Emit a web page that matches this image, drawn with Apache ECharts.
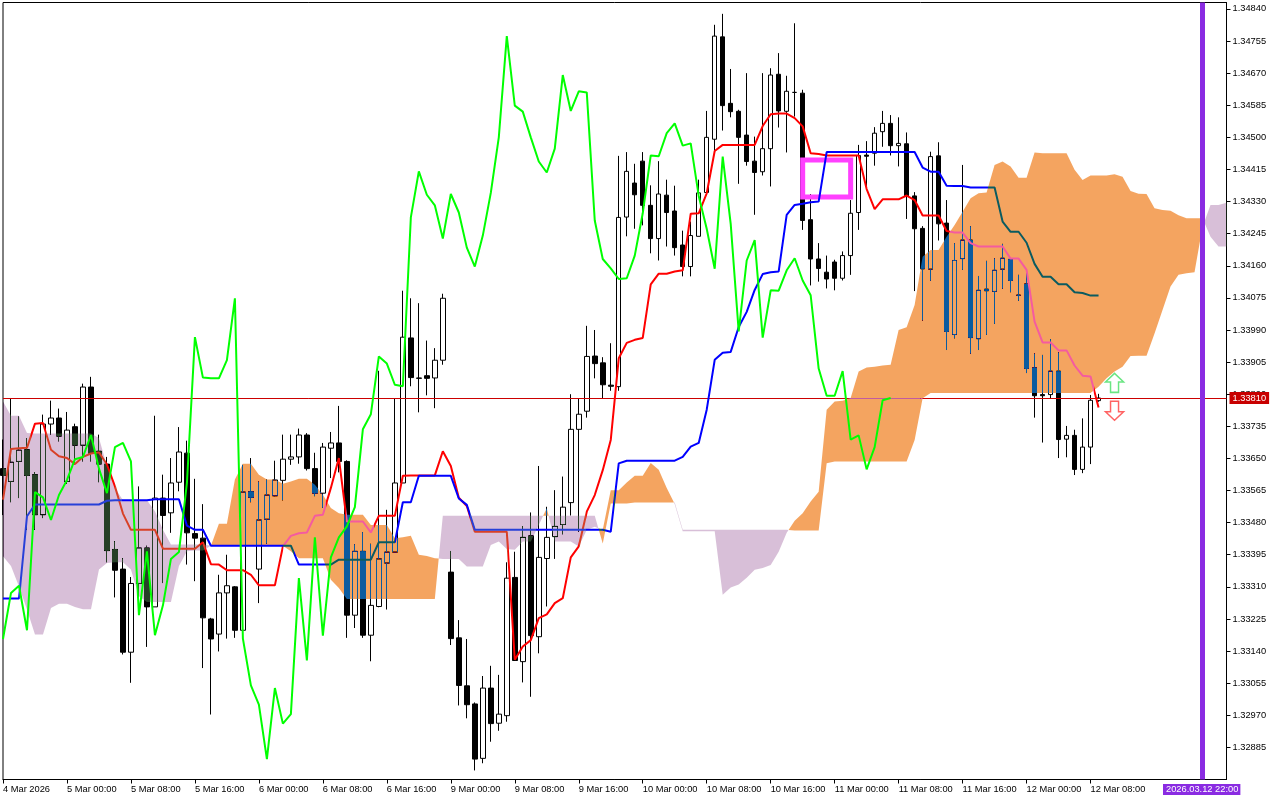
<!DOCTYPE html>
<html>
<head>
<meta charset="utf-8">
<script src="https://cdn.jsdelivr.net/npm/echarts@6/dist/echarts.min.js"></script>
<style>html,body{margin:0;padding:0;background:#fff}#c{width:1280px;height:800px}</style>
</head>
<body>
<div id="c"></div>
<script>
const opens=[1.33623,1.33589,1.33642,1.33673,1.33607,1.33501,1.33741,1.33757,1.33589,1.33734,1.33685,1.33839,1.33669,1.33635,1.33409,1.33357,1.33137,1.33319,1.33413,1.33257,1.33545,1.33506,1.33587,1.33664,1.33451,1.33439,1.33225,1.33185,1.33294,1.33310,1.33195,1.33562,1.33357,1.33489,1.33551,1.33592,1.33648,1.33654,1.33712,1.33623,1.33558,1.33677,1.33691,1.33642,1.33235,1.33404,1.33182,1.33258,1.33373,1.33402,1.33585,1.33969,1.33863,1.33869,1.33863,1.33910,
1.33349,1.33175,1.33048,1.33000,1.32856,1.33042,1.32949,1.32969,1.33335,1.33112,1.33445,1.33178,1.33385,1.33443,1.33475,1.33533,1.33727,1.33775,1.33921,1.33903,1.33844,1.33840,1.34289,1.34379,1.34437,1.34320,1.34232,1.34347,1.34305,1.34215,1.34158,1.34238,1.34354,1.34495,1.34766,1.34590,1.34569,1.34506,1.34437,1.34409,1.34470,1.34667,1.34569,1.34619,1.34617,1.34282,1.34178,1.34143,1.34170,1.34127,1.34187,1.34301,1.34453,1.34458,1.34515,1.34537,1.34478,1.34483,1.34345,1.34259,1.34151,1.34451,1.34273,1.33978,1.34179,1.34228,1.33967,1.34098,1.34092,1.34151,1.34177,1.34082,1.34112,1.33890,1.33819,1.33819,1.33881,1.33701,1.33711,1.33621,1.33680,1.33803];
const closes=[1.33605,1.33640,1.33672,1.33605,1.33501,1.33741,1.33757,1.33709,1.33725,1.33685,1.33839,1.33664,1.33635,1.33406,1.33354,1.33137,1.33319,1.33413,1.33257,1.33545,1.33499,1.33585,1.33667,1.33453,1.33439,1.33228,1.33172,1.33294,1.33313,1.33195,1.33561,1.33547,1.33487,1.33553,1.33593,1.33648,1.33654,1.33712,1.33623,1.33558,1.33680,1.33691,1.33642,1.33235,1.33404,1.33182,1.33261,1.33384,1.33402,1.33585,1.33971,1.33864,1.33862,1.33862,1.33910,1.34074,
1.33173,1.33049,1.32998,1.32854,1.33042,1.32948,1.32973,1.33333,1.33115,1.33441,1.33181,1.33388,1.33441,1.33470,1.33521,1.33727,1.33767,1.33920,1.33901,1.33845,1.33841,1.34288,1.34410,1.34348,1.34320,1.34232,1.34350,1.34301,1.34208,1.34158,1.34240,1.34353,1.34500,1.34768,1.34584,1.34568,1.34500,1.34436,1.34407,1.34470,1.34665,1.34570,1.34622,1.34619,1.34280,1.34178,1.34153,1.34125,1.34127,1.34187,1.34299,1.34452,1.34450,1.34511,1.34537,1.34478,1.34484,1.34345,1.34258,1.34152,1.34449,1.34271,1.33986,1.34174,1.34228,1.33970,1.34095,1.34094,1.34148,1.34180,1.34121,1.34082,1.33888,1.33816,1.33816,1.33881,1.33700,1.33711,1.33621,1.33680,1.33804,1.33810];
const lows=[1.33500,1.33534,1.33545,1.33461,1.33461,1.33492,1.33713,1.33695,1.33583,1.33634,1.33642,1.33642,1.33587,1.33375,1.33282,1.33131,1.33056,1.33241,1.33151,1.33257,1.33320,1.33453,1.33563,1.33369,1.33325,1.33095,1.32972,1.33139,1.33173,1.33175,1.33195,1.33534,1.33267,1.33424,1.33550,1.33539,1.33633,1.33636,1.33618,1.33550,1.33519,1.33598,1.33613,1.33175,1.33201,1.33175,1.33113,1.33256,1.33250,1.33402,1.33585,1.33841,1.33772,1.33817,1.33783,1.33898,
1.33156,1.32996,1.32962,1.32824,1.32843,1.32900,1.32929,1.32953,1.33115,1.33057,1.33019,1.33134,1.33258,1.33384,1.33449,1.33499,1.33456,1.33758,1.33862,1.33809,1.33829,1.33829,1.34238,1.34258,1.34267,1.34193,1.34174,1.34211,1.34187,1.34132,1.34132,1.34238,1.34354,1.34465,1.34518,1.34553,1.34377,1.34425,1.34295,1.34399,1.34370,1.34526,1.34460,1.34555,1.34255,1.34108,1.34118,1.34100,1.34095,1.34121,1.34136,1.34255,1.34361,1.34425,1.34475,1.34452,1.34423,1.34284,1.34093,1.34015,1.34120,1.34227,1.33937,1.33968,1.34149,1.33927,1.33937,1.33977,1.34006,1.34099,1.34090,1.34067,1.33876,1.33758,1.33692,1.33809,1.33651,1.33653,1.33606,1.33611,1.33635,1.33800];
const highs=[1.33700,1.33810,1.33761,1.33704,1.33614,1.33766,1.33803,1.33782,1.33773,1.33742,1.33848,1.33866,1.33713,1.33654,1.33431,1.33386,1.33336,1.33576,1.33419,1.33763,1.33607,1.33651,1.33733,1.33697,1.33596,1.33529,1.33228,1.33342,1.33395,1.33312,1.33633,1.33651,1.33589,1.33594,1.33644,1.33713,1.33713,1.33729,1.33717,1.33665,1.33691,1.33720,1.33789,1.33645,1.33423,1.33455,1.33424,1.33882,1.33514,1.33808,1.34094,1.34074,1.34061,1.33962,1.33942,1.34086,
1.33405,1.33222,1.33172,1.33004,1.33074,1.33101,1.33077,1.33375,1.33403,1.33471,1.33507,1.33630,1.33522,1.33566,1.33602,1.33820,1.33809,1.34001,1.33990,1.33918,1.33955,1.34451,1.34461,1.34430,1.34461,1.34373,1.34437,1.34388,1.34372,1.34253,1.34277,1.34388,1.34570,1.34798,1.34827,1.34681,1.34573,1.34670,1.34502,1.34670,1.34683,1.34723,1.34663,1.34802,1.34626,1.34350,1.34220,1.34187,1.34176,1.34198,1.34334,1.34480,1.34490,1.34527,1.34570,1.34559,1.34553,1.34513,1.34355,1.34265,1.34462,1.34487,1.34334,1.34220,1.34427,1.34265,1.34133,1.34173,1.34180,1.34218,1.34180,1.34136,1.34151,1.33928,1.33924,1.33966,1.33931,1.33736,1.33726,1.33756,1.33818,1.33821];
const tenkan=[1.33541,1.33675,1.33677,1.33678,1.33742,1.33744,1.33673,1.33656,1.33651,1.33635,1.33654,1.33663,1.33666,1.33634,1.33576,1.33504,1.33461,1.33461,1.33461,1.33461,1.33411,1.33411,1.33411,1.33411,1.33411,1.33428,1.33370,1.33369,1.33354,1.33354,1.33354,1.33342,1.33314,1.33314,1.33314,1.33417,1.33445,1.33452,1.33454,1.33498,1.33501,1.33572,1.33651,1.33483,1.33483,1.33483,1.33454,1.33498,1.33498,1.33498,1.33604,1.33605,1.33605,1.33605,1.33605,1.33669,1.33630,1.33546,1.33524,1.33456,1.33456,1.33456,1.33456,1.33456,1.33117,1.33152,1.33169,1.33227,1.33237,1.33267,1.33280,1.33388,1.33417,1.33509,1.33553,1.33619,1.33699,1.33915,1.33956,1.33964,1.33969,1.34111,1.34139,1.34139,1.34145,1.34148,1.34298,1.34299,1.34352,1.34464,1.34480,1.34480,1.34480,1.34480,1.34480,1.34530,1.34561,1.34563,1.34563,1.34551,1.34529,1.34458,1.34456,1.34452,1.34452,1.34452,1.34452,1.34452,1.34363,1.34310,1.34336,1.34336,1.34336,1.34346,1.34334,1.34293,1.34293,1.34293,1.34252,1.34248,1.34248,1.34220,1.34211,1.34211,1.34211,1.34211,1.34179,1.34179,1.34149,1.34012,1.33957,1.33957,1.33936,1.33936,1.33896,1.33869,1.33867,1.33785];
const kijun=[1.33279,1.33279,1.33279,1.33497,1.33528,1.33528,1.33528,1.33528,1.33528,1.33528,1.33528,1.33528,1.33528,1.33538,1.33539,1.33539,1.33539,1.33539,1.33539,1.33542,1.33542,1.33542,1.33542,1.33472,1.33461,1.33461,1.33419,1.33419,1.33419,1.33419,1.33419,1.33419,1.33419,1.33419,1.33419,1.33419,1.33419,1.33369,1.33369,1.33369,1.33369,1.33369,1.33382,1.33382,1.33382,1.33382,1.33382,1.33428,1.33428,1.33428,1.33534,1.33534,1.33604,1.33604,1.33604,1.33604,1.33604,1.33544,1.33527,1.33461,1.33461,1.33461,1.33461,1.33461,1.33461,1.33461,1.33461,1.33461,1.33461,1.33461,1.33461,1.33461,1.33461,1.33461,1.33461,1.33461,1.33456,1.33637,1.33644,1.33644,1.33644,1.33644,1.33644,1.33644,1.33644,1.33654,1.33681,1.33691,1.33779,1.33911,1.33930,1.33932,1.33998,1.34038,1.34096,1.34138,1.34143,1.34145,1.34295,1.34321,1.34324,1.34328,1.34330,1.34461,1.34461,1.34461,1.34461,1.34461,1.34461,1.34461,1.34461,1.34461,1.34461,1.34461,1.34461,1.34420,1.34409,1.34409,1.34372,1.34371,1.34371,1.34367,1.34367,1.34367,1.34367,1.34277,1.34250,1.34250,1.34221,1.34165,1.34131,1.34131,1.34111,1.34111,1.34090,1.34088,1.34081,1.34081];
const chikou=[1.33172,1.33294,1.33313,1.33195,1.33561,1.33547,1.33487,1.33553,1.33593,1.33648,1.33654,1.33712,1.33623,1.33558,1.33680,1.33691,1.33642,1.33235,1.33404,1.33182,1.33261,1.33384,1.33402,1.33585,1.33971,1.33864,1.33862,1.33862,1.33910,1.34074,1.33173,1.33049,1.32998,1.32854,1.33042,1.32948,1.32973,1.33333,1.33115,1.33441,1.33181,1.33388,1.33441,1.33470,1.33521,1.33727,1.33767,1.33920,1.33901,1.33845,1.33841,1.34288,1.34410,1.34348,1.34320,1.34232,1.34350,1.34301,1.34208,1.34158,1.34240,1.34353,1.34500,1.34768,1.34584,1.34568,1.34500,1.34436,1.34407,1.34470,1.34665,1.34570,1.34622,1.34619,1.34280,1.34178,1.34153,1.34125,1.34127,1.34187,1.34299,1.34452,1.34450,1.34511,1.34537,1.34478,1.34484,1.34345,1.34258,1.34152,1.34449,1.34271,1.33986,1.34174,1.34228,1.33970,1.34095,1.34094,1.34148,1.34180,1.34121,1.34082,1.33888,1.33816,1.33816,1.33881,1.33700,1.33711,1.33621,1.33680,1.33804,1.33810];
const spanA=[1.33391,1.33365,1.33311,1.33250,1.33184,1.33184,1.33254,1.33265,1.33265,1.33257,1.33251,1.33251,1.33356,1.33373,1.33375,1.33375,1.33356,1.33285,1.33270,1.33270,1.33270,1.33270,1.33365,1.33404,1.33406,1.33406,1.33419,
1.33477,1.33477,1.33594,1.33636,1.33636,1.33607,1.33594,1.33594,1.33583,1.33589,1.33596,1.33596,1.33580,1.33554,1.33519,1.33505,1.33501,1.33501,1.33501,1.33474,1.33474,1.33474,1.33439,1.33441,1.33445,1.33395,1.33392,1.33386,
1.33384,1.33384,1.33384,1.33364,1.33364,1.33364,1.33421,1.33430,1.33410,1.33408,1.33430,1.33430,1.33474,1.33518,1.33430,1.33430,1.33430,1.33417,1.33461,1.33469,1.33461,1.33566,1.33566,1.33586,1.33604,1.33604,1.33638,1.33620,1.33572,1.33529,1.33457,1.33457,1.33457,1.33457,1.33457,
1.33289,1.33308,1.33316,1.33334,1.33355,1.33360,1.33368,1.33403,1.33453,1.33485,1.33505,1.33536,1.33562,1.33779,1.33801,1.33803,1.33810,1.33880,1.33891,1.33893,1.33896,1.33898,1.33990,1.33997,1.34056,1.34184,1.34202,1.34202,1.34237,1.34268,1.34303,1.34339,1.34352,1.34354,1.34427,1.34436,1.34423,1.34393,1.34393,1.34460,1.34458,1.34458,1.34458,1.34458,1.34414,1.34387,1.34399,1.34399,1.34399,1.34402,1.34396,1.34358,1.34351,1.34350,1.34312,1.34308,1.34306,1.34294,1.34286,1.34286,1.34286,1.34237,1.34211,1.34211];
const spanB=[1.33801,1.33763,1.33763,1.33717,1.33716,1.33716,1.33716,1.33716,1.33716,1.33716,1.33716,1.33716,1.33704,1.33629,1.33572,1.33539,1.33539,1.33539,1.33539,1.33510,1.33461,1.33422,1.33422,1.33422,1.33422,1.33422,1.33419,
1.33419,1.33419,1.33419,1.33419,1.33419,1.33419,1.33419,1.33419,1.33419,1.33404,1.33386,1.33386,1.33386,1.33386,1.33329,1.33307,1.33278,1.33278,1.33278,1.33278,1.33278,1.33278,1.33278,1.33278,1.33278,1.33278,1.33278,1.33278,
1.33498,1.33498,1.33498,1.33498,1.33498,1.33498,1.33498,1.33498,1.33498,1.33498,1.33498,1.33498,1.33498,1.33498,1.33498,1.33498,1.33498,1.33498,1.33498,1.33498,1.33425,1.33531,1.33531,1.33531,1.33533,1.33533,1.33533,1.33533,1.33533,1.33533,1.33461,1.33461,1.33461,1.33461,1.33461,
1.33461,1.33461,1.33461,1.33461,1.33461,1.33461,1.33461,1.33461,1.33461,1.33459,1.33459,1.33459,1.33459,1.33637,1.33642,1.33642,1.33642,1.33642,1.33642,1.33642,1.33642,1.33642,1.33642,1.33642,1.33699,1.33809,1.33823,1.33823,1.33823,1.33823,1.33823,1.33823,1.33823,1.33823,1.33823,1.33823,1.33823,1.33823,1.33823,1.33823,1.33823,1.33823,1.33823,1.33823,1.33823,1.33823,1.33823,1.33840,1.33862,1.33880,1.33893,1.33921,1.33922,1.33922,1.33981,1.34043,1.34105,1.34136,1.34140,1.34143,1.34263,1.34321,1.34321,1.34327];
const priceTicks=[1.32885,1.32970,1.33055,1.33140,1.33225,1.33310,1.33395,1.33480,1.33565,1.33650,1.33735,1.33820,1.33905,1.33990,1.34075,1.34160,1.34245,1.34330,1.34415,1.34500,1.34585,1.34670,1.34755,1.34840];
const timeLabels=["4 Mar 2026","5 Mar 00:00","5 Mar 08:00","5 Mar 16:00","6 Mar 00:00","6 Mar 08:00","6 Mar 16:00","9 Mar 00:00","9 Mar 08:00","9 Mar 16:00","10 Mar 00:00","10 Mar 08:00","10 Mar 16:00","11 Mar 00:00","11 Mar 08:00","11 Mar 16:00","12 Mar 00:00","12 Mar 08:00"];
const BARS_ON_AXIS=154, LABEL_EVERY=8;
const lastPrice=1.33810;
const eventBar=150, eventLabel="2026.03.12 22:00";
const boxBars=[100,106], boxPrices=[1.34342,1.34440];
const arrowBar=139, arrowUpPrice=1.33850, arrowDownPrice=1.33776;
const FONT='"Liberation Sans"';
const GRID_LEFT=2.5, GRID_WIDTH=1224;

const categories=Array.from({length:BARS_ON_AXIS},(_,i)=> i%LABEL_EVERY===0 && i/LABEL_EVERY<timeLabels.length ? timeLabels[i/LABEL_EVERY] : String(i));
const showTick=i=> i%LABEL_EVERY===0 && i/LABEL_EVERY<timeLabels.length;

// cloud runs: a run of one sign, closed at the exact crossing of the two spans
function cloudRuns(){
  const runs=[]; let cur=null;
  const push=(f,a,b)=>{cur.up.push([f,Math.max(a,b)]);cur.lo.push([f,Math.min(a,b)]);};
  for(let i=0;i<spanA.length;i++){
    const a=spanA[i],b=spanB[i],s=Math.sign(a-b);
    if(s===0){
      if(cur){push(i,a,b);runs.push(cur);cur=null;}
      const next=Math.sign(spanA[i+1]-spanB[i+1]);
      cur={sign:next,up:[],lo:[]};push(i,a,b);
      continue;
    }
    if(cur && cur.sign!==s){
      const pa=spanA[i-1],pb=spanB[i-1],d=(pa-pb),t=d/(d-(a-b));
      const f=i-1+t,v=pa+(a-pa)*t;
      push(f,v,v);runs.push(cur);
      cur={sign:s,up:[],lo:[]};push(f,v,v);
    }
    if(!cur)cur={sign:s,up:[],lo:[]};
    push(i,a,b);
  }
  if(cur)runs.push(cur);
  return runs;
}
const runs=cloudRuns();
function fx(api,f,p){
  const i0=Math.floor(f),i1=Math.ceil(f);
  const x0=api.coord([i0,p])[0],x1=api.coord([i1,p])[0];
  return x0+(x1-x0)*(f-i0);
}
// the cloud inverts what lies beneath it: a line takes another colour while it is inside the cloud
function lerp(arr,f){const i=Math.floor(f),t=f-i;return t===0?arr[i]:arr[i]+(arr[i+1]-arr[i])*t;}
function throughCloud(values,palette){
  const stops=[],sub=24,last=BARS_ON_AXIS-1;let prev=null;
  for(let s=0;s<=(values.length-1)*sub;s++){
    const f=s/sub,v=lerp(values,f),a=lerp(spanA,f),b=lerp(spanB,f);
    const st=(v>Math.min(a,b)&&v<Math.max(a,b))?(a>b?'sand':'thistle'):'clear';
    if(st!==prev){
      if(prev)stops.push({offset:f/last,color:palette[prev]});
      stops.push({offset:f/last,color:palette[st]});
      prev=st;
    }
  }
  stops.push({offset:1,color:palette[prev]});
  return {type:'linear',x:GRID_LEFT,y:0,x2:GRID_LEFT+GRID_WIDTH,y2:0,global:true,colorStops:stops};
}

const chart=echarts.init(document.getElementById('c'),null,{renderer:'canvas',width:1280,height:800});
chart.setOption({
  animation:false,
  backgroundColor:'#ffffff',
  textStyle:{fontFamily:FONT},
  grid:{left:GRID_LEFT,top:2.5,width:GRID_WIDTH,height:777,show:true,borderColor:'#000',borderWidth:1,backgroundColor:'transparent',containLabel:false},
  xAxis:{type:'category',data:categories,boundaryGap:false,
    axisLine:{onZero:false,lineStyle:{color:'#000',width:1}},
    axisTick:{show:true,length:4,interval:showTick,lineStyle:{color:'#000'}},
    axisLabel:{interval:showTick,align:'left',color:'#000',fontFamily:FONT,fontSize:9.3,margin:5,hideOverlap:false},
    splitLine:{show:false}},
  yAxis:{type:'value',position:'right',min:1.32800,max:1.34857,
    axisLine:{show:true,onZero:false,lineStyle:{color:'#000',width:1}},
    axisTick:{show:true,length:4,customValues:priceTicks,lineStyle:{color:'#000'}},
    axisLabel:{customValues:priceTicks,color:'#000',fontFamily:FONT,fontSize:9.3,margin:6,formatter:v=>v.toFixed(5),showMinLabel:true,showMaxLabel:true},
    splitLine:{show:false}},
  series:[
    {type:'candlestick',z:1,barWidth:5,silent:true,large:false,progressive:0,
      data:opens.map((o,i)=>[o,closes[i],lows[i],highs[i]]),
      itemStyle:{color:'#ffffff',color0:'#000000',borderColor:'#000000',borderColor0:'#000000',borderWidth:1}},
    {type:'custom',z:2,silent:true,clip:false,data:[[boxBars[0]]],
      renderItem:(p,api)=>{
        const a=api.coord([boxBars[0],boxPrices[1]]),b=api.coord([boxBars[1],boxPrices[0]]);
        return {type:'rect',shape:{x:a[0],y:a[1],width:b[0]-a[0],height:b[1]-a[1]},style:{fill:'none',stroke:'#FF40FF',lineWidth:5}};
      }},
    {type:'line',z:3,data:[],silent:true,
      markLine:{silent:true,z:3,symbol:'none',animation:false,precision:5,
        data:[{yAxis:lastPrice}],lineStyle:{color:'#CC0000',width:1,type:'solid'},
        label:{show:true,position:'end',distance:3,formatter:()=>lastPrice.toFixed(5),color:'#fff',backgroundColor:'#C80000',fontFamily:FONT,fontSize:9.3,padding:[2,3,1,3]}}},
    {type:'custom',z:6,silent:true,blendMode:'difference',data:runs.map((r,i)=>[i]),
      renderItem:(p,api)=>{
        const r=runs[p.dataIndex];
        const pts=r.up.map(([f,v])=>[fx(api,f,v),api.coord([0,v])[1]]).concat(r.lo.slice().reverse().map(([f,v])=>[fx(api,f,v),api.coord([0,v])[1]]));
        // difference with these colours turns white into sandy brown (A above B) or thistle (B above A)
        return {type:'polygon',shape:{points:pts},style:{fill:r.sign>0?'#0B5B9F':'#274027'}};
      }},
    {type:'line',name:'Tenkan',z:7,data:tenkan,symbol:'none',silent:true,
      lineStyle:{width:2,color:throughCloud(tenkan,{clear:'#FF0000',sand:'#F45B9F',thistle:'#D84027'})}},
    {type:'line',name:'Kijun',z:8,data:kijun,symbol:'none',silent:true,
      lineStyle:{width:2,color:throughCloud(kijun,{clear:'#0000FF',sand:'#0B5B60',thistle:'#2740D8'})}},
    {type:'line',name:'Chikou',z:9,data:chikou,symbol:'none',silent:true,lineStyle:{color:'#00FF00',width:2},itemStyle:{color:'#00FF00'}},
    {type:'line',z:10,data:[],silent:true,
      markLine:{silent:true,z:10,symbol:'none',animation:false,
        data:[{xAxis:eventBar}],lineStyle:{color:'#8A2BE2',width:5,type:'solid'},label:{show:false}}},
    {type:'scatter',z:11,silent:true,
      data:[[arrowBar,arrowUpPrice]],
      symbol:'path://M9 0 L18 9 L13 9 L13 20 L5 20 L5 9 L0 9 Z',symbolSize:[18,19],
      itemStyle:{color:'#ffffff',borderColor:'#45DE63',borderWidth:1.5}},
    {type:'scatter',z:11,silent:true,
      data:[[arrowBar,arrowDownPrice]],
      symbol:'path://M5 0 L13 0 L13 11 L18 11 L9 20 L0 11 L5 11 Z',symbolSize:[18,19],
      itemStyle:{color:'#ffffff',borderColor:'#FF3B3B',borderWidth:1.5}}
  ],
  graphic:[{type:'text',x:1163,y:784,z:50,silent:true,style:{text:eventLabel,fill:'#fff',font:'9.3px '+FONT,backgroundColor:'#8A2BE2',padding:[1,2,1,3]}}]
});
</script>
</body>
</html>
